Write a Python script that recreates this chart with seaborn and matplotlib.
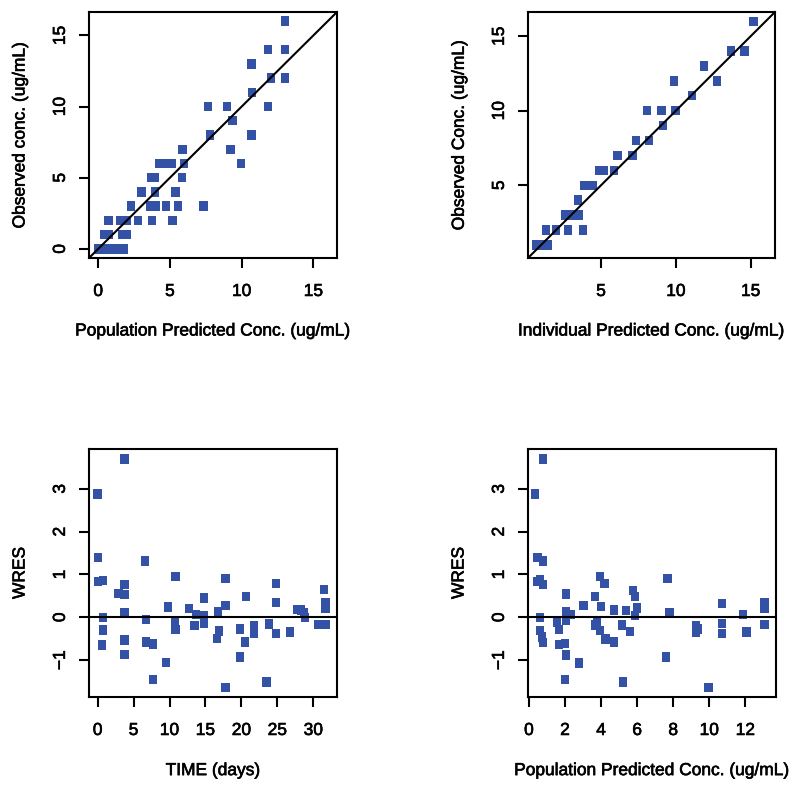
import matplotlib
matplotlib.use("Agg")
import matplotlib.pyplot as plt
import matplotlib.patheffects as pe
import seaborn as sns
import numpy as np
import pandas as pd

# ---------------- data ----------------
# Panel 1: observed vs population predicted
pred_pop = [0.0, 0.3, 0.6, 0.9, 1.2, 1.5, 1.8,
            0.4, 0.72, 1.7, 2.0,
            0.72, 1.56, 2.0, 2.75, 3.73, 5.18,
            2.29, 3.64, 3.99, 4.71, 5.58, 7.33,
            3.01, 3.97, 5.39,
            3.66, 3.97, 5.83,
            4.22, 4.5, 5.11, 5.97, 9.94,
            5.88, 9.22,
            7.77, 10.69,
            9.36,
            7.63, 9.0, 11.85,
            10.73,
            12.04, 13.04,
            10.69,
            11.85, 13.04,
            13.04]
obs_pop = [0, 0, 0, 0, 0, 0, 0,
           1, 1, 1, 1,
           2, 2, 2, 2, 2, 2,
           3, 3, 3, 3, 3, 3,
           4, 4, 4,
           5, 5, 5,
           6, 6, 6, 6, 6,
           7, 7,
           8, 8,
           9,
           10, 10, 10,
           11,
           12, 12,
           13,
           14, 14,
           16]

# Panel 2: observed vs individual predicted
pred_ind = [0.65, 1.07, 1.47,
            1.3, 2.0, 2.77, 3.8,
            2.6, 3.05, 3.5,
            3.46,
            3.88, 4.2, 4.46,
            4.84, 5.18, 5.87,
            6.09, 7.1,
            7.34, 8.19,
            9.15,
            8.08, 9.04, 9.98,
            11.07,
            9.87, 12.75,
            11.9,
            13.7, 14.58,
            15.18]
obs_ind = [1, 1, 1,
           2, 2, 2, 2,
           3, 3, 3,
           4,
           5, 5, 5,
           6, 6, 6,
           7, 7,
           8, 8,
           9,
           10, 10, 10,
           11,
           12, 12,
           13,
           14, 14,
           16]

# Panel 3: WRES vs TIME
time_days = [0.0, 3.75, 0.09, 0.09, 0.74, 0.74, 0.74, 0.65,
             2.92, 3.75, 3.75, 3.75, 3.75, 3.75,
             6.62, 6.76, 6.76, 7.74, 9.55, 7.74,
             9.78, 10.84, 10.8, 10.84,
             12.74, 13.49, 13.67,
             14.78, 14.78, 14.78,
             16.73, 16.87, 16.64,
             17.8, 17.8, 17.8,
             19.84, 19.84, 20.49, 20.67,
             21.74, 21.74, 23.82, 23.5,
             24.8, 24.8, 24.8, 26.75,
             27.7, 28.3, 28.7, 28.8,
             31.5, 31.7, 31.7, 30.7, 31.7]
wres_time = [2.88, 3.70, 1.40, 0.83, 0.86, 0.0, -0.30, -0.65,
             0.55, 0.53, 0.77, 0.11, -0.53, -0.87,
             1.32, -0.05, -0.58, -0.62, -1.06, -1.45,
             0.24, 0.96, -0.11, -0.29,
             0.20, -0.19, 0.07,
             0.45, 0.03, -0.14,
             0.12, -0.32, -0.50,
             0.90, 0.28, -1.64,
             -0.27, -0.93, -0.58, 0.48,
             -0.19, -0.37, -0.16, -1.51,
             0.79, 0.34, -0.38, -0.34,
             0.18, 0.17, 0.11, 0.0,
             0.65, 0.33, 0.21, -0.17, -0.17]

# Panel 4: WRES vs population predicted
pred_wres = [0.35, 0.78, 0.47, 0.78, 0.46, 0.63, 0.78,
             0.61, 0.61, 0.72, 0.80,
             1.54, 1.67, 1.67, 2.0, 2.06, 2.04, 2.04, 2.04, 2.3,
             2.78, 1.99, 3.03, 3.66, 3.93, 4.19, 4.0,
             3.66, 3.79, 3.93, 4.24, 4.73, 4.73,
             5.16, 5.4, 5.6, 5.2,
             5.79, 5.88, 5.99, 5.9,
             7.68, 7.8, 7.59, 9.96,
             9.28, 9.28, 9.37,
             10.72, 10.72, 10.72,
             11.89, 12.06,
             13.06, 13.06, 13.06]
wres_pred = [2.88, 3.70, 1.40, 1.32, 0.83, 0.88, 0.76,
             0.0, -0.31, -0.46, -0.59,
             -0.11, -0.29, -0.63, -0.61, -0.88, 0.54, 0.12, -0.06, 0.06,
             -1.07, -1.45, 0.28, 0.49, 0.96, 0.79, 0.25,
             -0.18, -0.09, -0.31, -0.51, 0.17, -0.58,
             -0.18, 0.16, -0.33, -1.51,
             0.63, 0.48, 0.22, 0.04,
             0.91, 0.11, -0.93, -1.64,
             -0.19, -0.35, -0.27,
             0.32, -0.15, -0.38,
             0.06, -0.34,
             0.33, 0.20, -0.17]

# ---------------- style ----------------
sns.set_style("ticks")
plt.rcParams["font.family"] = ["Liberation Sans", "DejaVu Sans"]
plt.rcParams["font.size"] = 12.5
plt.rcParams["text.color"] = "black"
plt.rcParams["axes.labelcolor"] = "black"
plt.rcParams["xtick.color"] = "black"
plt.rcParams["ytick.color"] = "black"

BLUE = "#3452A5"
LW = 1.5
rect_marker = [(-0.44, -0.5), (0.44, -0.5), (0.44, 0.5), (-0.44, 0.5), (-0.44, -0.5)]
heavy = [pe.withStroke(linewidth=0.45, foreground="black")]

W, H = 800, 791
fig = plt.figure(figsize=(W / 100, H / 100), dpi=100)

def add_ax(x0, y0, x1, y1):
    return fig.add_axes([x0 / W, 1 - y1 / H, (x1 - x0) / W, (y1 - y0) / H])

ax1 = add_ax(89, 12, 337, 258)
ax2 = add_ax(528, 12, 775, 258)
ax3 = add_ax(89, 449, 337, 697)
ax4 = add_ax(528, 449, 776, 697)

def style(ax, xlabel, ylabel):
    for s in ax.spines.values():
        s.set_visible(True)
        s.set_linewidth(LW)
        s.set_color("black")
    ax.tick_params(axis="both", length=7.2, width=LW, color="black",
                   labelsize=12.5, labelcolor="black")
    ax.tick_params(axis="x", pad=11.5)
    ax.tick_params(axis="y", pad=8, labelrotation=90)
    ax.set_xlabel(xlabel, fontsize=12.5, color="black")
    ax.set_ylabel(ylabel, fontsize=12.5, color="black")
    ax.xaxis.label.set_va("center")
    ax.yaxis.label.set_va("center")
    ax.xaxis.set_label_coords(0.5, -73 / 246)
    ax.yaxis.set_label_coords(-69 / 248, 0.5)
    ax.xaxis.label.set_path_effects(heavy)
    ax.yaxis.label.set_path_effects(heavy)

def finish_ticks(ax):
    for lab in ax.get_yticklabels():
        lab.set_va("center")
        lab.set_path_effects(heavy)
    for lab in ax.get_xticklabels():
        lab.set_path_effects(heavy)

def scatter(ax, x, y):
    df = pd.DataFrame({"x": x, "y": y})
    sns.scatterplot(data=df, x="x", y="y", ax=ax, marker=rect_marker, s=46,
                    color=BLUE, edgecolor="none", linewidth=0, zorder=3)

def minus_fmt(v, p):
    return ("\u2212" if v < 0 else "") + f"{abs(int(round(v)))}"

# Panel 1
scatter(ax1, pred_pop, obs_pop)
ax1.set_xlim(-0.64, 16.64)
ax1.set_ylim(-0.64, 16.64)
ax1.plot([-0.64, 16.64], [-0.64, 16.64], color="black", lw=LW, zorder=4)
ax1.set_xticks([0, 5, 10, 15])
ax1.set_yticks([0, 5, 10, 15])
style(ax1, "Population Predicted Conc. (ug/mL)", "Observed conc. (ug/mL)")

# Panel 2
scatter(ax2, pred_ind, obs_ind)
ax2.set_xlim(0.12, 16.62)
ax2.set_ylim(0.12, 16.62)
ax2.plot([0.12, 16.62], [0.12, 16.62], color="black", lw=LW, zorder=4)
ax2.set_xticks([5, 10, 15])
ax2.set_yticks([5, 10, 15])
style(ax2, "Individual Predicted Conc. (ug/mL)", "Observed Conc. (ug/mL)")

# Panel 3
scatter(ax3, time_days, wres_time)
ax3.set_xlim(-1.2, 33.3)
ax3.set_ylim(-1.86, 3.93)
ax3.axhline(0, color="black", lw=LW, zorder=4)
ax3.set_xticks([0, 5, 10, 15, 20, 25, 30])
ax3.set_yticks([-1, 0, 1, 2, 3])
style(ax3, "TIME (days)", "WRES")

# Panel 4
scatter(ax4, pred_wres, wres_pred)
ax4.set_xlim(-0.05, 13.7)
ax4.set_ylim(-1.86, 3.93)
ax4.axhline(0, color="black", lw=LW, zorder=4)
ax4.set_xticks([0, 2, 4, 6, 8, 10, 12])
ax4.set_yticks([-1, 0, 1, 2, 3])
style(ax4, "Population Predicted Conc. (ug/mL)", "WRES")

for ax in (ax1, ax2, ax3, ax4):
    ax.yaxis.set_major_formatter(matplotlib.ticker.FuncFormatter(minus_fmt))

fig.canvas.draw()
for ax in (ax1, ax2, ax3, ax4):
    finish_ticks(ax)

fig.savefig("out.png", dpi=100)
